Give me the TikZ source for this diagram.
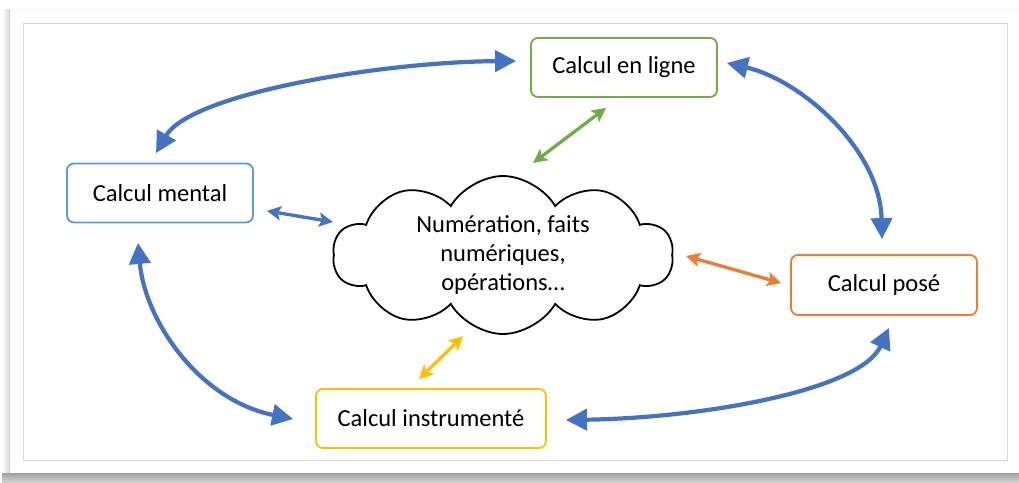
\documentclass[tikz,border=0pt]{standalone}
\usepackage{fontspec}
\setmainfont{Carlito}
\usetikzlibrary{arrows.meta,shapes.symbols,calc}
\definecolor{arrblue}{HTML}{4472C4}
\definecolor{boxblue}{HTML}{5B9BD5}
\definecolor{boxgreen}{HTML}{70AD47}
\definecolor{boxorange}{HTML}{ED7D31}
\definecolor{boxyellow}{HTML}{FFC000}
\begin{document}
\begin{tikzpicture}[x=1pt,y=-1pt,
  box/.style={draw, line width=1.8pt, rounded corners=7pt, fill=white,
    minimum height=59pt, inner sep=0pt, font=\fontsize{24.5}{29}\selectfont},
  bigarr/.style={draw=arrblue, line width=4.2pt,
    {Triangle[length=21pt,width=21pt]}-{Triangle[length=21pt,width=21pt]}},
  smallarr/.style={line width=3.3pt,
    {Stealth[length=14pt,width=14pt,inset=3pt]}-{Stealth[length=14pt,width=14pt,inset=3pt]}}
]
\useasboundingbox (0,0) rectangle (1019,482);
% card and shadow
\fill[white] (0,0) rectangle (1019,482);
\shade[left color=white, right color=gray!35] (2,9) rectangle (10,473);
\shade[top color=gray!75, bottom color=gray!35] (2,473) rectangle (1019,482);
\draw[gray!8, line width=1pt] (10,9) -- (1019,9);
\draw[gray!30, line width=1pt] (23,23) rectangle (1007,460);

% nodes
\node[box, draw=boxgreen, minimum width=186pt] (ligne) at (624,67.5) {Calcul en ligne};
\node[box, draw=boxblue, minimum width=186pt] (mental) at (160,193) {Calcul mental};
\node[box, draw=boxorange, minimum width=186pt, minimum height=60pt] (pose) at (884,285) {Calcul posé};
\node[box, draw=boxyellow, minimum width=230pt] (instr) at (431,418.5) {Calcul instrumenté};
\node[cloud, draw=black, line width=1.8pt, cloud puffs=10, cloud puff arc=120, aspect=2.1,
  minimum width=340pt, minimum height=158pt, inner sep=0pt, align=center,
  font=\fontsize{24.5}{29}\selectfont] (cloud) at (503,255)
  {Numération, faits\\numériques,\\opérations…};

% big blue arrows
\draw[bigarr] ($(mental.north)+(-4,-9.5)$) .. controls +(34,-59) and +(-137,1) .. ($(ligne.west)+(-14,-6.5)$);
\draw[bigarr] ($(ligne.east)+(9,-4.5)$) .. controls +(74,17) and +(-2,-90) .. ($(pose.north)+(-2,-15)$);
\draw[bigarr] ($(pose.south)+(5,12)$) .. controls +(-29,63) and +(135,-2) .. ($(instr.east)+(19,1.5)$);
\draw[bigarr] ($(instr.west)+(-22,0.5)$) .. controls +(-94,-19) and +(7,78) .. ($(mental.south)+(-22,19.5)$);

% small arrows
\draw[smallarr, draw=arrblue] ($(mental.south east)+(13,-12.5)$) -- ($(cloud.center)+(-170,-33)$);
\draw[smallarr, draw=boxgreen] ($(cloud.center)+(30,-92)$) -- ($(ligne.south)+(-18,10)$);
\draw[smallarr, draw=boxorange] ($(cloud.center)+(183,1)$) -- ($(pose.west)+(-9,-2)$);
\draw[smallarr, draw=boxyellow] ($(instr.north)+(-12,-9)$) -- ($(cloud.center)+(-40,81)$);
\end{tikzpicture}
\end{document}
